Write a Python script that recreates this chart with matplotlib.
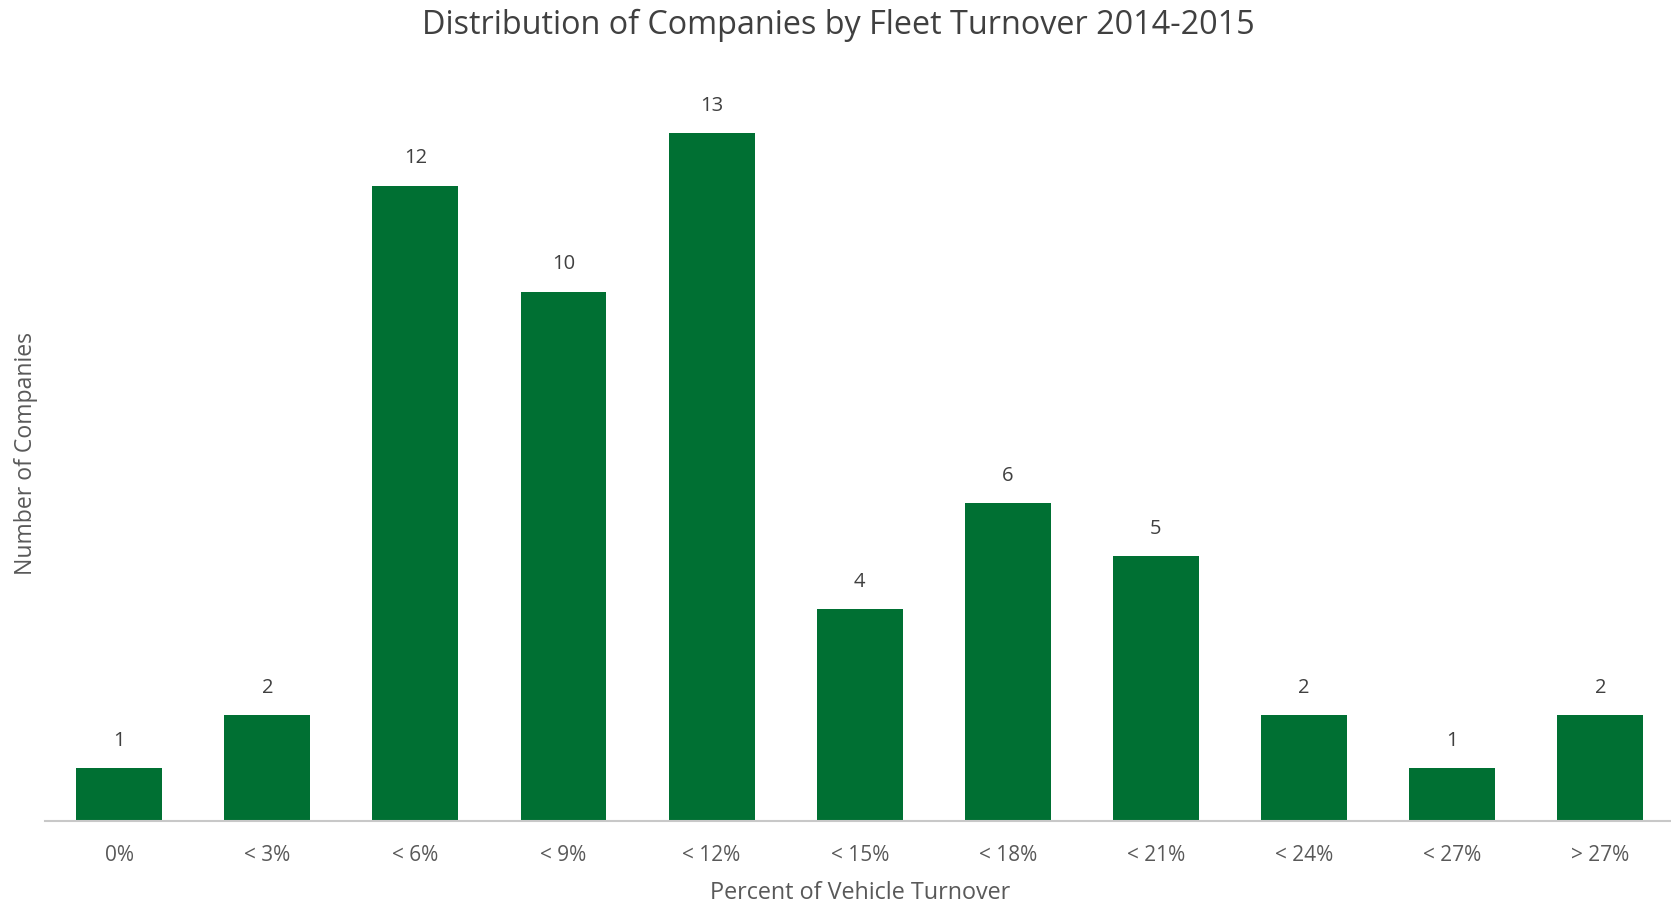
import matplotlib
matplotlib.use("Agg")
import matplotlib.pyplot as plt

categories = ["0%", "< 3%", "< 6%", "< 9%", "< 12%", "< 15%", "< 18%", "< 21%", "< 24%", "< 27%", "> 27%"]
counts = [1, 2, 12, 10, 13, 4, 6, 5, 2, 1, 2]

plt.rcParams['font.family'] = ['Open Sans', 'DejaVu Sans']

fig = plt.figure(figsize=(16.71, 9.07), dpi=100)
ax = fig.add_axes([0.027, 0.0948, 0.975, 0.817])

x = list(range(len(categories)))
bars = ax.bar(x, counts, width=0.58, color='#007033', zorder=2)
for xi, v in zip(x, counts):
    ax.annotate(str(v), (xi, v), xytext=(0, 12.5), textcoords='offset points',
                ha='center', va='bottom', fontsize=14.5, color='#404040')

ax.set_xlim(-0.5, 10.5)
ax.set_ylim(0, 14)
ax.set_xticks(x)
ax.set_xticklabels(categories, fontsize=15, color='#595959')
ax.tick_params(axis='x', length=0, pad=17)
ax.set_yticks([])
for s in ['top', 'right', 'left']:
    ax.spines[s].set_visible(False)
ax.spines['bottom'].set_color('#c8c8c8')
ax.spines['bottom'].set_linewidth(1.5)

fig.text(0.5015, 0.972, "Distribution of Companies by Fleet Turnover 2014-2015",
         ha='center', va='center', fontsize=23.3, color='#404040')
fig.text(0.515, 0.015, "Percent of Vehicle Turnover", ha='center', va='center',
         fontsize=16.8, color='#595959')
fig.text(0.0155, 0.5, "Number of Companies", ha='center', va='center',
         rotation=90, fontsize=16.6, color='#595959')

fig.savefig("out.png", dpi=100, facecolor='white')
